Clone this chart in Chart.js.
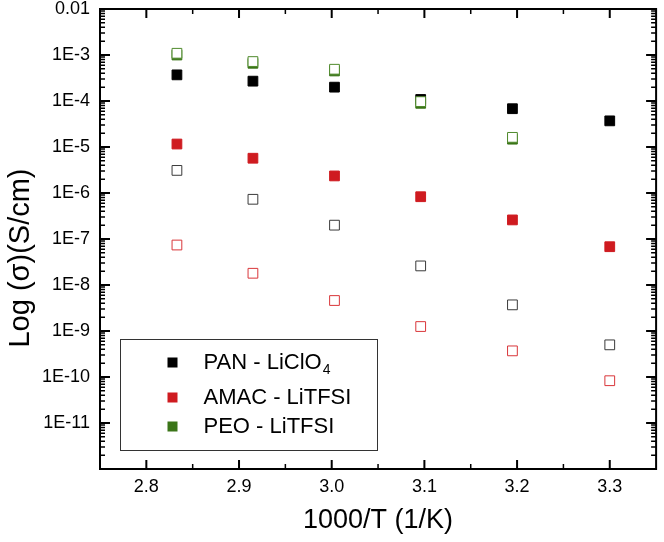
<!DOCTYPE html>
<html>
<head>
<meta charset="utf-8">
<script src="https://cdn.jsdelivr.net/npm/chart.js@4"></script>
<style>
  html, body { margin: 0; padding: 0; background: #fff; }
  #wrap { width: 664px; height: 542px; }
</style>
</head>
<body>
<div id="wrap"><canvas id="myChart" width="664" height="542"></canvas></div>
<script>
// 1000/T (1/K)
var invT = [2.833, 2.915, 3.003, 3.096, 3.195, 3.300];

// conductivity (S/cm)
var panFilled  = [3.7e-4, 2.7e-4, 2.0e-4, 1.08e-4, 6.8e-5, 3.7e-5];
var panOpen    = [3.1e-6, 7.3e-7, 2.0e-7, 2.6e-8, 3.7e-9, 5.0e-10];
var amacFilled = [1.16e-5, 5.7e-6, 2.35e-6, 8.3e-7, 2.6e-7, 6.8e-8];
var amacOpen   = [7.4e-8, 1.8e-8, 4.6e-9, 1.25e-9, 3.7e-10, 8.3e-11];
var peoFilled  = [1.0e-3, 6.6e-4, 4.5e-4, 8.9e-5, 1.48e-5];
var peoOpen    = [1.09e-3, 7.2e-4, 4.9e-4, 9.7e-5, 1.62e-5];

var legendLabels = ["PAN - LiClO", "AMAC - LiTFSI", "PEO - LiTFSI"];
var xTicks = [2.8, 2.9, 3.0, 3.1, 3.2, 3.3];
var xTickLabels = ["2.8", "2.9", "3.0", "3.1", "3.2", "3.3"];
var yTicks = [1e-2, 1e-3, 1e-4, 1e-5, 1e-6, 1e-7, 1e-8, 1e-9, 1e-10, 1e-11];
var yTickLabels = ["0.01", "1E-3", "1E-4", "1E-5", "1E-6", "1E-7", "1E-8", "1E-9", "1E-10", "1E-11"];
var yTitle = "Log (σ)(S/cm)";

var FONT = "'Liberation Sans', Arial, sans-serif";

function pts(ys) {
  return ys.map(function (y, i) { return { x: invT[i], y: y }; });
}

function series(label, data, fill, border) {
  return {
    label: label,
    data: pts(data),
    pointStyle: "rect",
    pointRadius: 6.9,
    pointHoverRadius: 6.9,
    backgroundColor: fill,
    borderColor: border,
    borderWidth: 1,
    showLine: false
  };
}

function noPad(s) {
  s.paddingTop = 0; s.paddingBottom = 0; s.paddingLeft = 0; s.paddingRight = 0;
}

// frame, inward ticks, y title and the boxed legend
var framePlugin = {
  id: "frame",
  afterDraw: function (chart) {
    var ctx = chart.ctx, a = chart.chartArea;
    var xs = chart.scales.x, ys = chart.scales.y;
    ctx.save();
    ctx.strokeStyle = "#000";

    function hTick(v, len, w) {
      var px = xs.getPixelForValue(v);
      ctx.lineWidth = w;
      ctx.beginPath();
      ctx.moveTo(px, a.bottom); ctx.lineTo(px, a.bottom - len);
      ctx.moveTo(px, a.top); ctx.lineTo(px, a.top + len);
      ctx.stroke();
    }
    function vTick(v, len, w) {
      var py = ys.getPixelForValue(v);
      ctx.lineWidth = w;
      ctx.beginPath();
      ctx.moveTo(a.left, py); ctx.lineTo(a.left + len, py);
      ctx.moveTo(a.right, py); ctx.lineTo(a.right - len, py);
      ctx.stroke();
    }

    xTicks.forEach(function (v) { hTick(v, 9, 2); });
    for (var i = 0; i < xTicks.length; i++) {
      var m = xTicks[i] + 0.05;
      if (m < xs.max - 0.01) hTick(m, 5, 1.5);
    }
    for (var e = -12; e <= -3; e++) {
      for (var k = 2; k <= 9; k++) vTick(k * Math.pow(10, e), 5, 1.5);
    }
    yTicks.forEach(function (v) { vTick(v, 10, 2); });

    ctx.lineWidth = 2;
    ctx.strokeRect(a.left, a.top, a.right - a.left, a.bottom - a.top);

    // y axis title (sits a bit below the plot centre in the original)
    ctx.save();
    ctx.translate(21, (a.top + a.bottom) / 2 + 19);
    ctx.rotate(-Math.PI / 2);
    ctx.fillStyle = "#000";
    ctx.font = "29px " + FONT;
    ctx.textAlign = "center";
    ctx.textBaseline = "middle";
    ctx.fillText(yTitle, 0, 0);
    ctx.restore();

    // legend
    var bx = a.left + 20.5, by = a.top + 330.5;
    ctx.lineWidth = 1;
    ctx.strokeStyle = "#333";
    ctx.strokeRect(bx, by, 257, 111);
    var rows = [23, 58, 87];
    var legendSets = [chart.data.datasets[2], chart.data.datasets[3], chart.data.datasets[1]];
    ctx.textBaseline = "middle";
    ctx.textAlign = "left";
    for (var r = 0; r < legendLabels.length; r++) {
      var cy = by + rows[r];
      ctx.fillStyle = legendSets[r].backgroundColor;
      ctx.fillRect(bx + 47, cy - 5, 10, 10);
      ctx.fillStyle = "#000";
      ctx.font = "22px " + FONT;
      ctx.fillText(legendLabels[r], bx + 83, cy);
      if (r === 0) {
        var w = ctx.measureText(legendLabels[r]).width;
        ctx.font = "14px " + FONT;
        ctx.fillText("4", bx + 84 + w, cy + 8);
      }
    }
    ctx.restore();
  }
};

var ctx = document.getElementById("myChart").getContext("2d");
var chart = new Chart(ctx, {
  type: "scatter",
  data: {
    datasets: [
      series("PEO - LiTFSI (open)", peoOpen, "#ffffff", "#4f8a2c"),
      series("PEO - LiTFSI", peoFilled, "#3b7518", "#3b7518"),
      series("PAN - LiClO4", panFilled, "#000000", "#000000"),
      series("AMAC - LiTFSI", amacFilled, "#cf1b20", "#cf1b20"),
      series("PAN - LiClO4 (open)", panOpen, "#ffffff", "#3a3a3a"),
      series("AMAC - LiTFSI (open)", amacOpen, "#ffffff", "#d9363a")
    ]
  },
  plugins: [framePlugin],
  options: {
    responsive: false,
    animation: false,
    layout: { padding: { top: 9, right: 5, left: 0, bottom: 0 } },
    plugins: { legend: { display: false }, tooltip: { enabled: false } },
    scales: {
      x: {
        type: "linear",
        min: 2.75,
        max: 3.35,
        grid: { display: false, drawTicks: false },
        border: { display: false },
        afterBuildTicks: function (s) { s.ticks = xTicks.map(function (v) { return { value: v }; }); },
        afterFit: function (s) { s.height = 73; noPad(s); },
        ticks: {
          autoSkip: false,
          maxRotation: 0,
          padding: 7,
          color: "#000",
          font: { family: FONT, size: 18 },
          callback: function (v, i) { return xTickLabels[i]; }
        },
        title: {
          display: true,
          text: "1000/T (1/K)",
          color: "#000",
          font: { family: FONT, size: 27 },
          padding: { top: 0, bottom: 5 }
        }
      },
      y: {
        type: "logarithmic",
        min: 1e-12,
        max: 1e-2,
        grid: { display: false, drawTicks: false },
        border: { display: false },
        afterBuildTicks: function (s) { s.ticks = yTicks.map(function (v) { return { value: v }; }); },
        afterFit: function (s) { s.width = 100; noPad(s); },
        ticks: {
          autoSkip: false,
          padding: 10,
          color: "#000",
          font: { family: FONT, size: 18 },
          callback: function (v, i) { return yTickLabels[i]; }
        }
      }
    }
  }
});
</script>
</body>
</html>
